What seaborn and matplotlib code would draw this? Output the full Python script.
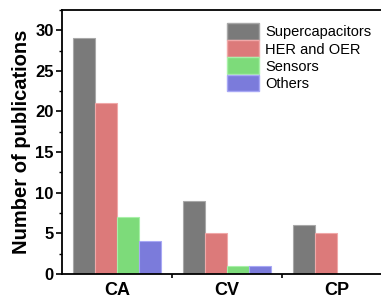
import numpy as np
import pandas as pd
import matplotlib
matplotlib.use("Agg")
import matplotlib.pyplot as plt
import seaborn as sns
from matplotlib.ticker import MultipleLocator

# ── data ────────────────────────────────────────────────────────────────────
methods    = ["CA", "CV", "CP"]
categories = ["Supercapacitors", "HER and OER", "Sensors", "Others"]
supercap   = [29, 9, 6]
her_oer    = [21, 5, 5]
sensors    = [7, 1, 0]
others     = [4, 1, 0]

colors = ["#7a7a7a", "#dc7a7a", "#7ddb7a", "#7b7bdb"]
edges  = ["#a8a8a8", "#f0a8a8", "#a8f0a8", "#a8a8f5"]

df = pd.DataFrame({
    "Method": methods * 4,
    "Application": np.repeat(categories, 3),
    "Count": supercap + her_oer + sensors + others,
})

sns.set_theme(style="white", rc={"text.color": "black", "axes.labelcolor": "black",
                                 "xtick.color": "black", "ytick.color": "black"})
plt.rcParams["font.family"] = ["Liberation Sans", "DejaVu Sans"]

fig = plt.figure(figsize=(3.81, 3.0), dpi=100)
ax = fig.add_axes([0.163, 0.087, 0.866, 0.880])

sns.barplot(data=df, x="Method", y="Count", hue="Application",
            hue_order=categories, palette=colors, width=0.8,
            saturation=1, ax=ax)

# light edges like the original
for cont, ec in zip(ax.containers, edges):
    for bar in cont:
        bar.set_edgecolor(ec)
        bar.set_linewidth(0.8)

ax.set_xlim(-0.5, 2.5)
ax.set_ylim(0, 32.5)
ax.yaxis.set_major_locator(MultipleLocator(5))
ax.yaxis.set_minor_locator(MultipleLocator(2.5))
ax.set_xticks([0, 1, 2])
ax.set_xticks([0.5, 1.5], minor=True)
ax.set_xticklabels(methods, fontsize=13, fontweight="bold")
ax.tick_params(axis="x", which="major", length=0, pad=6)
ax.tick_params(axis="x", which="minor", length=3, width=1.2, direction="out", bottom=True)
ax.tick_params(axis="y", which="major", length=4, width=1.2, direction="out", left=True,
               labelsize=12, pad=2)
ax.tick_params(axis="y", which="minor", length=2.5, width=1.0, direction="out", left=True)
for lbl in ax.get_yticklabels():
    lbl.set_fontweight("bold")

ax.set_xlabel("")
ax.set_ylabel("Number of publications", fontsize=14.5, fontweight="bold", labelpad=3)

for sp in ax.spines.values():
    sp.set_color("black")
    sp.set_linewidth(1.3)

leg = ax.legend(loc="upper left", bbox_to_anchor=(0.50, 0.95), frameon=False,
                fontsize=10.5, handlelength=2.2, handleheight=1.4,
                handletextpad=0.4, labelspacing=0.02, borderaxespad=0, borderpad=0)
for h, ec in zip(leg.legend_handles, edges):
    h.set_edgecolor(ec)

fig.savefig("out.png", dpi=100)
